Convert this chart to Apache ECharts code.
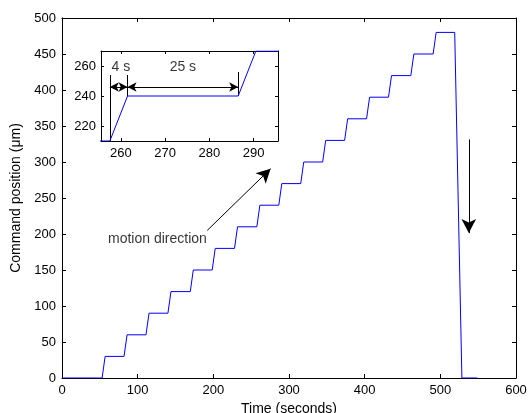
<!DOCTYPE html>
<html>
<head>
<meta charset="utf-8">
<script src="https://cdn.jsdelivr.net/npm/echarts@6/dist/echarts.min.js"></script>
<style>html,body{margin:0;padding:0;background:#fff;overflow:hidden;}#c{width:528px;height:413px;}</style>
</head>
<body>
<div id="c"></div>
<script>
// Command profile vertices (time in s, position in µm)
const timeData = [0, 53, 57, 82, 86, 111, 115, 140, 144, 169.5, 173.5, 198.5, 202.5, 228, 232,
  257.5, 261.5, 286.5, 290.5, 315.5, 319.5, 344.5, 348.5, 373.5, 377.5, 402.5, 406.5,
  431.5, 435.5, 461, 465, 490.5, 494.5, 519, 528.5, 549];
const posData = [0, 0, 30, 30, 60, 60, 90, 90, 120, 120, 150, 150, 180, 180, 210,
  210, 240, 240, 270, 270, 300, 300, 330, 330, 360, 360, 390,
  390, 420, 420, 450, 450, 480, 480, 0, 0];

const insetXTicks = [260, 270, 280, 290];
const insetYTicks = [220, 240, 260];
const insetMarks = [257.5, 261.5, 286.5];   // ramp start / end / next ramp
const insetLabels = ['4 s', '25 s'];
const motionText = 'motion direction';

const pts = timeData.map((t, i) => [t, posData[i]]);
const FONT = "'Liberation Sans', Arial, Helvetica, sans-serif";
const txt = { color: '#000', fontFamily: FONT, fontSize: 13 };

const chart = echarts.init(document.getElementById('c'), null, { renderer: 'canvas', width: 528, height: 413 });

function mainAxisX(idx, pos, showLabel) {
  return {
    type: 'value', gridIndex: 0, position: pos, min: 0, max: 600, interval: 100,
    axisLine: { show: true, onZero: false, lineStyle: { color: '#000', width: 1 } },
    axisTick: { show: true, inside: true, length: 4, lineStyle: { color: '#000' } },
    axisLabel: { show: showLabel, margin: 6, ...txt },
    splitLine: { show: false },
    name: showLabel ? 'Time (seconds)' : '', nameLocation: 'middle', nameGap: 19,
    nameTextStyle: { ...txt, fontSize: 14 }
  };
}
function mainAxisY(pos, showLabel) {
  return {
    type: 'value', gridIndex: 0, position: pos, min: 0, max: 500, interval: 50,
    axisLine: { show: true, onZero: false, lineStyle: { color: '#000', width: 1 } },
    axisTick: { show: true, inside: true, length: 4, lineStyle: { color: '#000' } },
    axisLabel: { show: showLabel, margin: 6, ...txt },
    splitLine: { show: false },
    name: showLabel ? 'Command position (μm)' : '', nameLocation: 'middle', nameGap: 34,
    nameTextStyle: { ...txt, fontSize: 14 }
  };
}
function insetAxisX(pos, showLabel) {
  return {
    type: 'value', gridIndex: 1, position: pos, min: 255.5, max: 295.5,
    axisLine: { show: true, onZero: false, lineStyle: { color: '#000', width: 1 } },
    axisTick: { show: true, inside: true, length: 3, customValues: insetXTicks, lineStyle: { color: '#000' } },
    axisLabel: { show: showLabel, margin: 6, customValues: insetXTicks, ...txt },
    splitLine: { show: false }
  };
}
function insetAxisY(pos, showLabel) {
  return {
    type: 'value', gridIndex: 1, position: pos, min: 210, max: 270, interval: 10,
    axisLine: { show: true, onZero: false, lineStyle: { color: '#000', width: 1 } },
    axisTick: { show: true, inside: true, length: 3, customValues: insetYTicks, lineStyle: { color: '#000' } },
    axisLabel: { show: showLabel, margin: 5, customValues: insetYTicks, ...txt },
    splitLine: { show: false }
  };
}

const option = {
  animation: false,
  backgroundColor: '#fff',
  grid: [
    { left: 62, top: 18, right: 12, bottom: 35, containLabel: false, outerBoundsMode: 'none' },
    { left: 101, top: 51, width: 177, height: 90, show: true, backgroundColor: '#fff', borderWidth: 0, z: 5, containLabel: false, outerBoundsMode: 'none' }
  ],
  xAxis: [
    mainAxisX(0, 'bottom', true),
    mainAxisX(1, 'top', false),
    { ...insetAxisX('bottom', true), z: 6 },
    { ...insetAxisX('top', false), z: 6 }
  ],
  yAxis: [
    mainAxisY('left', true),
    mainAxisY('right', false),
    { ...insetAxisY('left', true), z: 6 },
    { ...insetAxisY('right', false), z: 6 }
  ],
  series: [
    {
      type: 'line', xAxisIndex: 0, yAxisIndex: 0, data: pts, showSymbol: false, symbol: 'none',
      lineStyle: { color: '#0000ff', width: 1 }, silent: true,
      markLine: {
        silent: true, animation: false, symbolSize: [11, 14],
        label: { show: false },
        lineStyle: { color: '#000', width: 1, type: 'solid' },
        emphasis: { disabled: true },
        data: [
          [{ coord: [192, 205], symbol: 'none' }, { coord: [275.7, 290.7], symbol: 'arrow' }],
          [{ coord: [537.6, 331.3], symbol: 'none' }, { coord: [537.6, 201.3], symbol: 'arrow' }]
        ]
      }
    },
    {
      type: 'scatter', xAxisIndex: 0, yAxisIndex: 0, symbolSize: 0, silent: true,
      data: [{ value: [60.8, 192.5] }],
      label: { show: true, position: 'right', distance: 0, formatter: motionText, ...txt, fontSize: 14 }
    },
    {
      type: 'line', xAxisIndex: 2, yAxisIndex: 2, data: pts, showSymbol: false, symbol: 'none',
      lineStyle: { color: '#0000ff', width: 1 }, silent: true, z: 7, clip: true,
      markLine: {
        silent: true, animation: false, symbolSize: [7, 9],
        label: { show: false },
        lineStyle: { color: '#000', width: 1, type: 'solid' },
        emphasis: { disabled: true },
        data: [
          [{ coord: [insetMarks[0], 210], symbol: 'none' }, { coord: [insetMarks[0], 254], symbol: 'none' }],
          [{ coord: [insetMarks[1], 240], symbol: 'none' }, { coord: [insetMarks[1], 254], symbol: 'none' }],
          [{ coord: [insetMarks[2], 240], symbol: 'none' }, { coord: [insetMarks[2], 256], symbol: 'none' }],
          [{ coord: [insetMarks[0], 246], symbol: 'arrow' }, { coord: [insetMarks[1], 246], symbol: 'arrow' }],
          [{ coord: [insetMarks[1], 246], symbol: 'arrow' }, { coord: [insetMarks[2], 246], symbol: 'arrow' }]
        ]
      }
    },
    {
      type: 'scatter', xAxisIndex: 2, yAxisIndex: 2, symbolSize: 0, silent: true, z: 8,
      data: [
        { value: [260, 259], label: { formatter: insetLabels[0] } },
        { value: [274, 259], label: { formatter: insetLabels[1] } }
      ],
      label: { show: true, position: 'inside', ...txt, fontSize: 14 }
    }
  ]
};
chart.setOption(option);
</script>
</body>
</html>
